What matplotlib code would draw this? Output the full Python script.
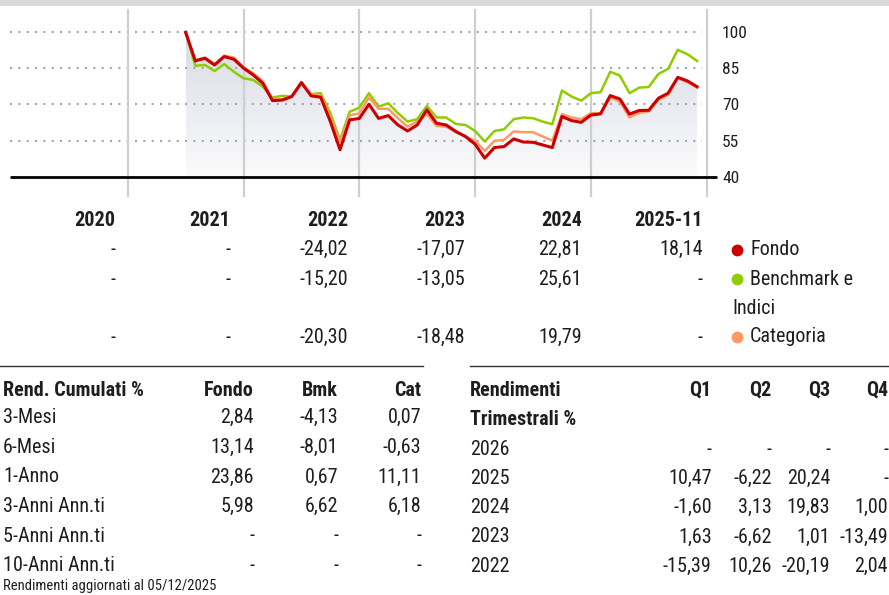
import matplotlib
matplotlib.use("Agg")
import matplotlib.pyplot as plt
from matplotlib import font_manager
from matplotlib.lines import Line2D
from matplotlib.patches import Rectangle
import numpy as np
import pandas as pd

# pick a condensed sans with both regular and bold faces
_weights = {}
for f in font_manager.fontManager.ttflist:
    _weights.setdefault(f.name, set()).add(f.weight if isinstance(f.weight, int) else 400)
FONT = 'DejaVu Sans'
for cand in ['Roboto Condensed', 'IBM Plex Sans Condensed', 'Fira Sans Condensed',
             'PT Sans Narrow', 'Archivo Narrow', 'Liberation Sans Narrow',
             'Encode Sans Condensed', 'Sofia Sans Condensed']:
    w = _weights.get(cand, set())
    if 400 in w and any(x >= 700 for x in w):
        FONT = cand
        break
plt.rcParams['font.family'] = [FONT, 'DejaVu Sans']

# Month-end values, indexed to 100 at the start of the fund
dates = pd.date_range('2021-06-30', periods=54, freq='ME')
fondo = [100.0, 88.1, 89.2, 86.4, 89.9, 88.8, 85.1, 82.3, 78.8, 71.6,
         71.8, 73.3, 79.1, 73.6, 73.0, 62.9, 51.2, 63.6, 64.2, 70.1,
         64.2, 65.4, 61.5, 59.0, 61.5, 67.8, 62.2, 61.5, 58.8, 56.7,
         53.5, 47.7, 52.1, 52.5, 55.7, 54.4, 54.3, 53.2, 52.1, 65.0,
         63.3, 62.6, 65.6, 66.1, 73.7, 72.3, 66.0, 67.5, 67.6, 72.6,
         74.7, 81.3, 79.8, 77.4]
benchmark = [100.0, 86.1, 86.4, 83.9, 86.8, 83.6, 80.9, 80.2, 77.4, 72.9,
             73.6, 73.3, 78.8, 74.3, 74.7, 66.4, 55.3, 67.0, 68.7, 74.7,
             69.1, 70.5, 66.4, 62.9, 63.9, 69.4, 64.6, 64.6, 61.9, 61.5,
             59.0, 54.6, 59.0, 59.7, 63.9, 64.6, 64.3, 62.9, 61.8, 75.8,
             73.3, 71.6, 74.7, 75.1, 83.6, 82.0, 74.7, 77.0, 77.3, 82.7,
             84.8, 92.7, 90.9, 88.1]
categoria = [100.0, 88.5, 89.5, 86.8, 90.3, 89.5, 85.5, 83.0, 79.6, 72.2,
             72.3, 73.5, 79.3, 74.3, 73.6, 64.5, 54.5, 65.5, 66.3, 72.9,
             68.2, 68.2, 64.3, 60.8, 62.9, 66.0, 61.1, 60.8, 58.5, 56.7,
             54.9, 50.7, 54.9, 55.3, 58.8, 58.5, 58.5, 56.7, 55.0, 66.0,
             64.6, 63.9, 66.4, 66.4, 72.9, 71.2, 64.6, 66.6, 67.1, 71.9,
             74.0, 80.9, 79.3, 77.0]
y_ticks = [40, 55, 70, 85, 100]

# Calendar-year returns
years = ['2020', '2021', '2022', '2023', '2024', '2025-11']
annual_fondo = [None, None, -24.02, -17.07, 22.81, 18.14]
annual_bmk = [None, None, -15.20, -13.05, 25.61, None]
annual_cat = [None, None, -20.30, -18.48, 19.79, None]

# Cumulative returns
cum_labels = ['3-Mesi', '6-Mesi', '1-Anno', '3-Anni Ann.ti', '5-Anni Ann.ti', '10-Anni Ann.ti']
cum_fondo = [2.84, 13.14, 23.86, 5.98, None, None]
cum_bmk = [-4.13, -8.01, 0.67, 6.62, None, None]
cum_cat = [0.07, -0.63, 11.11, 6.18, None, None]

# Quarterly returns
q_years = ['2026', '2025', '2024', '2023', '2022']
q1 = [None, 10.47, -1.60, 1.63, -15.39]
q2 = [None, -6.22, 3.13, -6.62, 10.26]
q3 = [None, 20.24, 19.83, 1.01, -20.19]
q4 = [None, None, 1.00, -13.49, 2.04]

RED = '#cc0000'
GREEN = '#8fcc00'
ORANGE = '#ff9966'
TXT = '#1e1e1e'

W, H = 889, 595
fig = plt.figure(figsize=(W / 100, H / 100), dpi=100)


def px(x, y):
    return x / W, 1 - y / H


def fmt(v):
    return '-' if v is None else f"{v:.2f}".replace('.', ',')


def put(x, y, s, ha='right', size=14.5, bold=False):
    fig.text(*px(x, y), s, ha=ha, va='baseline', fontsize=size,
             fontweight='bold' if bold else 'normal', color=TXT)


# grey band at the top
fig.patches.append(Rectangle((0, 1 - 6 / H), 1, 6 / H, transform=fig.transFigure,
                             facecolor='#d9d9d9', edgecolor='none'))

# ---- line chart ----
ax = fig.add_axes([10 / W, 1 - 196 / H, 696.7 / W, 186 / H])
# months counted from the end of 2020
months = np.array([(d.year - 2021) * 12 + d.month for d in dates], dtype=float)
ax.set_xlim(-12.2, 60)
ax.set_ylim(31.98, 109.26)

# gradient fill under the fund line
poly = ax.fill_between(months, fondo, 40, facecolor='none', edgecolor='none')
grad = np.linspace(0, 1, 256).reshape(-1, 1)
cmap = matplotlib.colors.LinearSegmentedColormap.from_list('shade', ['#d8dbe5', '#fbfbfc'])
im = ax.imshow(grad, cmap=cmap, aspect='auto', extent=[months[0], months[-1], 40, 100],
               origin='upper', zorder=1)
im.set_clip_path(poly.get_paths()[0], transform=ax.transData)

ax.hlines([55, 70, 85, 100], -12.2, 59.5, colors='#a6a6a6', linewidth=1.5,
          linestyles=(0, (1, 3)), zorder=2)
for m in [0, 12, 24, 36, 48, 60]:
    ax.axvline(m, color='#cfcfcf', linewidth=1.6, zorder=2, clip_on=False)
ax.hlines(40, -12.2, 61.1, colors='black', linewidth=2.0, zorder=5, clip_on=False)

ax.plot(months, benchmark, color=GREEN, linewidth=1.8, zorder=3)
ax.plot(months, categoria, color=ORANGE, linewidth=1.8, zorder=3)
ax.plot(months, fondo, color=RED, linewidth=2.2, zorder=4)

ax.set_yticks(y_ticks)
ax.yaxis.tick_right()
ax.tick_params(axis='y', length=0, pad=11, labelsize=12.5, labelcolor=TXT)
ax.set_xticks([])
for s in ax.spines.values():
    s.set_visible(False)

# ---- calendar-year table ----
col_right = [115, 230, 348, 465, 582, 703]
for x, yr in zip(col_right, years):
    put(x, 226.5, yr, bold=True)
for x, a, b, c in zip(col_right, annual_fondo, annual_bmk, annual_cat):
    put(x, 255, fmt(a))
    put(x, 284.5, fmt(b))
    put(x, 342.5, fmt(c))

for y, col in [(249.5, RED), (278.5, GREEN), (336.7, ORANGE)]:
    fig.add_artist(Line2D([736.7 / W], [1 - y / H], marker='o', markersize=7.5,
                          color=col, linestyle='none', transform=fig.transFigure))
put(750, 255, 'Fondo', ha='left')
put(750, 284.5, 'Benchmark e', ha='left')
put(732, 313.5, 'Indici', ha='left')
put(750, 342.5, 'Categoria', ha='left')

# ---- cumulative returns ----
fig.add_artist(Line2D([0, 422.7 / W], [1 - 366 / H] * 2, color='#333333', linewidth=1.0,
                      transform=fig.transFigure))
put(3, 395.5, 'Rend. Cumulati %', ha='left', bold=True)
for x, h in zip([254, 338, 421.5], ['Fondo', 'Bmk', 'Cat']):
    put(x, 395.5, h, bold=True)
row_y = [423, 453, 482.5, 512, 541.5, 571]
for y, lab, a, b, c in zip(row_y, cum_labels, cum_fondo, cum_bmk, cum_cat):
    put(3, y, lab, ha='left')
    put(254, y, fmt(a))
    put(338, y, fmt(b))
    put(421.5, y, fmt(c))
put(3, 590, 'Rendimenti aggiornati al 05/12/2025', ha='left', size=10.5)

# ---- quarterly returns ----
fig.add_artist(Line2D([470 / W, 1], [1 - 366 / H] * 2, color='#333333', linewidth=1.0,
                      transform=fig.transFigure))
put(470, 395.5, 'Rendimenti', ha='left', bold=True)
put(470, 425, 'Trimestrali %', ha='left', bold=True)
q_right = [711.7, 771.7, 830, 888]
for x, h in zip(q_right, ['Q1', 'Q2', 'Q3', 'Q4']):
    put(x, 395.5, h, bold=True)
q_row_y = [455, 484, 513, 542.5, 572]
for y, yr, a, b, c, d in zip(q_row_y, q_years, q1, q2, q3, q4):
    put(470, y, yr, ha='left')
    for x, v in zip(q_right, [a, b, c, d]):
        put(x, y, fmt(v))

fig.savefig('out.png', dpi=100)
